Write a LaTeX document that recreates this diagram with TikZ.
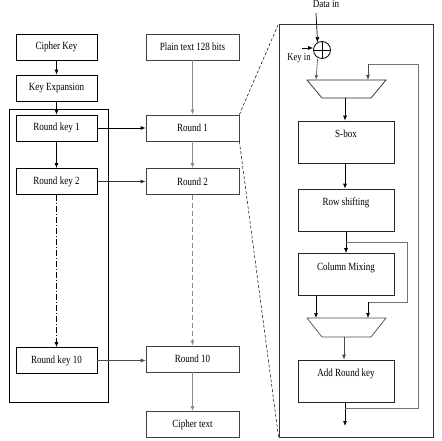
\documentclass[tikz,border=0pt]{standalone}
\usepackage{fontspec}
\setmainfont{Liberation Serif}[FakeStretch=0.82]
\usetikzlibrary{arrows.meta}
\begin{document}
\begin{tikzpicture}[x=1pt,y=-1pt,
  font=\fontsize{11}{12}\selectfont,
  lbox/.style={draw=black, line width=0.8pt, minimum width=81pt, minimum height=26pt, inner sep=0pt},
  mbox/.style={draw=black!75, line width=0.7pt, minimum width=93pt, minimum height=26pt, inner sep=0pt},
  ibox/.style={draw=black!85, line width=0.7pt, minimum width=96pt, inner xsep=2pt, inner ysep=9pt, text height=7.5pt, text depth=16.5pt},
  arr/.style={-{Latex[length=5pt,width=4pt]}, line width=0.8pt},
  garr/.style={draw=black!45, line width=1pt, -{Latex[length=5pt,width=4pt,fill=black]}},
  gline/.style={draw=black!55, line width=0.8pt},
  dashdot/.style={dash pattern=on 6pt off 2pt on 1pt off 2pt},
  gdash/.style={dash pattern=on 5pt off 3pt},
  zoomline/.style={draw=black, line width=0.5pt, dash pattern=on 3pt off 2pt}
]
\useasboundingbox (0,0) rectangle (441,441);

% left column
\node[lbox] (ck) at (56.5,47) {Cipher Key};
\node[lbox] (ke) at (56.5,88) {Key Expansion};
\node[draw=black, line width=0.8pt, minimum width=99pt, minimum height=293pt, inner sep=0pt] (lframe) at (58.5,255.5) {};
\node[lbox] (rk1) at (56.5,128) {Round key 1};
\node[lbox] (rk2) at (56.5,181.5) {Round key 2};
\node[lbox] (rk10) at (56.5,360.5) {Round key 10};

% middle column
\node[mbox] (pt) at (192.5,47) {Plain text 128 bits};
\node[mbox] (r1) at (192.5,128) {Round 1};
\node[mbox] (r2) at (192.5,181.5) {Round 2};
\node[mbox] (r10) at (192.5,359) {Round 10};
\node[mbox] (ct) at (192.5,424.5) {Cipher text};

\draw[arr] (ck) -- (ke);
\draw[arr] (ke) -- (rk1);
\draw[arr] (rk1) -- (rk2);
\draw[arr, dashdot] (rk2) -- (rk10);
\draw[arr] (rk1) -- (r1);
\draw[arr, line width=0.6pt, draw=black!80] (rk2.east) -- (r2.west);
\draw[arr, line width=0.6pt, draw=black!70] (rk10.east) -- (r10.west |- rk10.east);

\draw[garr] (pt) -- (r1);
\draw[garr] (r1) -- (r2);
\draw[garr, gdash] (r2) -- (r10);
\draw[garr] (r10) -- (ct);

% right part
\node[draw=black!80, line width=0.8pt, minimum width=154pt, minimum height=413pt, inner sep=0pt] (rframe) at (356,230.5) {};
\draw[zoomline] (r1.north east) -- (rframe.north west);
\draw[zoomline] (r1.south east) -- (rframe.south west);

\node[inner sep=0pt, anchor=north] (din) at (326,0) {Data in};
\node[draw=black, line width=0.8pt, circle, minimum size=17pt, inner sep=0pt] (xor) at (322,50) {};
\draw[line width=0.7pt] (xor.north) -- (xor.south) (xor.west) -- (xor.east);
\node[inner sep=0pt, font=\fontsize{10.5}{11}\selectfont] (kin) at (299,58.5) {Key in};
\coordinate (kinarr) at (302,48);
\draw[arr, line width=0.7pt] (kinarr) -- (xor.west |- kinarr);
\coordinate (dinx) at (316,13);
\draw[arr, line width=0.7pt] (dinx) -- (xor.120);

% mux 1
\coordinate (m1tl) at (307,80);
\coordinate (m1tr) at (386,80);
\coordinate (m1br) at (371,98);
\coordinate (m1bl) at (322,98);
\draw[line width=0.7pt, draw=black!85] (m1tl) -- (m1tr) -- (m1br) -- (m1bl) -- cycle;
\coordinate (m1in1) at (316,80);
\coordinate (m1in2) at (368,80);
\coordinate (m1out) at (345,98);
\draw[garr, draw=black!55, line width=0.8pt] (xor.240 |- xor.south) -- (m1in1);

\node[ibox] (sbox) at (346,142) {S-box};
\node[ibox] (rows) at (346,210) {Row shifting};
\node[ibox] (colm) at (346,274.5) {Column Mixing};
\node[ibox] (ark) at (346,381) {Add Round key};

\draw[arr, line width=0.7pt] (m1out) -- (m1out |- sbox.north);
\draw[arr, line width=0.7pt] (sbox.south -| m1out) -- (m1out |- rows.north);
\draw[arr, line width=0.7pt] (rows.south) -- (colm.north);

% mux 2
\coordinate (m2tl) at (307,318);
\coordinate (m2tr) at (386,318);
\coordinate (m2br) at (371,337);
\coordinate (m2bl) at (322,337);
\draw[line width=0.7pt, draw=black!70] (m2tl) -- (m2tr) -- (m2br) -- (m2bl) -- cycle;
\coordinate (m2in1) at (316,318);
\coordinate (m2in2) at (368,318);
\coordinate (m2out) at (344,337);

\draw[arr, line width=0.7pt] (colm.south -| m2in1) -- (m2in1);
\coordinate (br1) at (346,242);
\draw[gline] (br1) -- (407,242) -- (407,302) -- (368,302);
\draw[arr, line width=0.7pt] (368,302) -- (m2in2);
\draw[arr, line width=0.7pt, draw=black!70] (m2out) -- (m2out |- ark.north);

% output and feedback
\coordinate (outend) at (345,426);
\draw[arr, line width=0.7pt] (ark.south -| outend) -- (outend);
\draw[gline] (345,408) -- (418,408) -- (418,64) -- (368,64);
\draw[arr, line width=0.7pt, draw=black!70] (368,64) -- (m1in2);
\end{tikzpicture}
\end{document}
